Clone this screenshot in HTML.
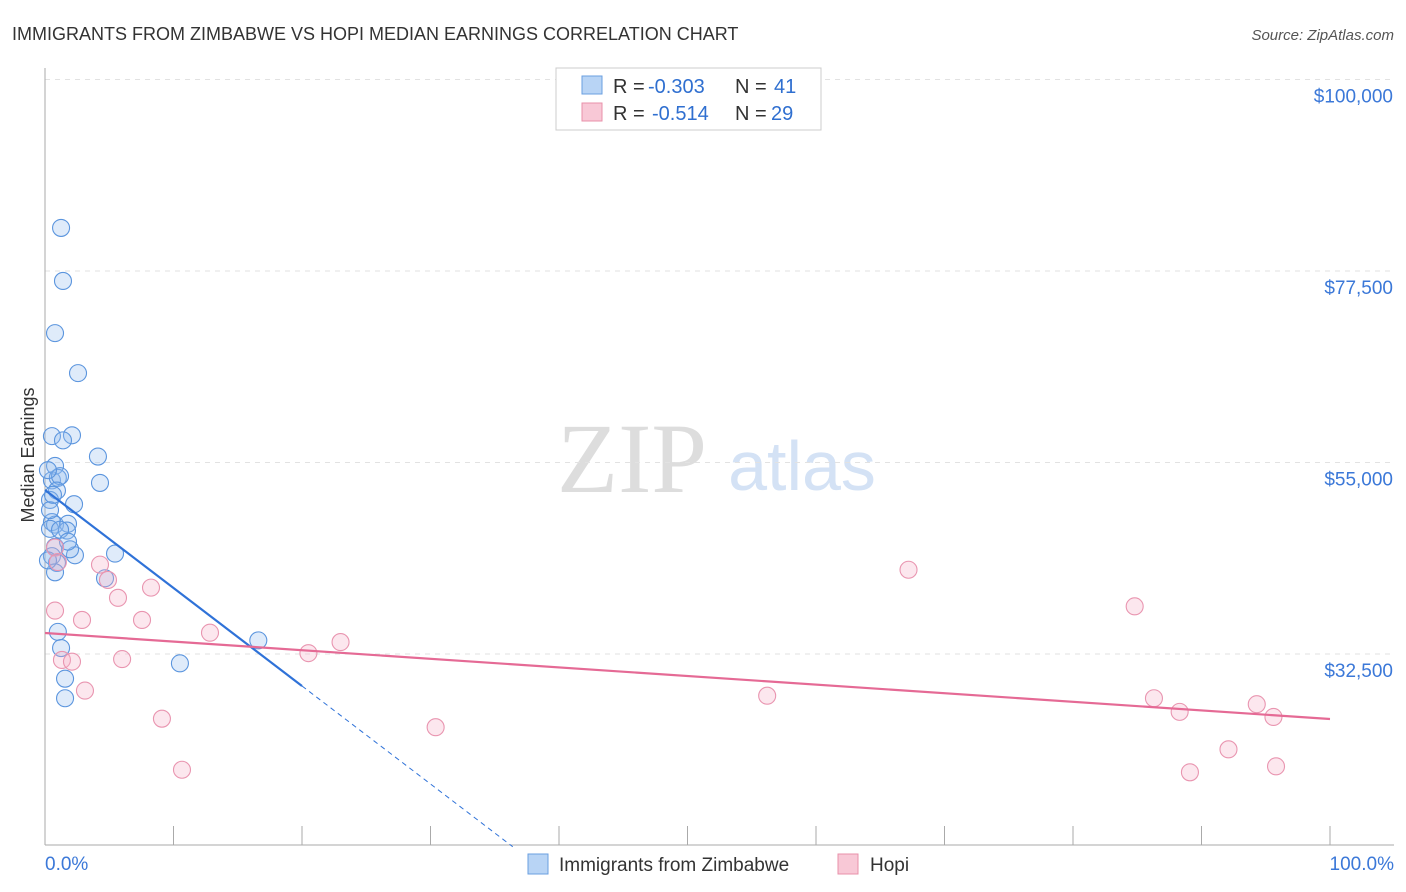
<!DOCTYPE html>
<html><head><meta charset="utf-8"><style>
body{margin:0;background:#fff;font-family:"Liberation Sans",sans-serif}
#wrap{position:relative;width:1406px;height:892px;overflow:hidden}
</style></head><body>
<div id="wrap">
<svg id="svg" width="1406" height="892" xmlns="http://www.w3.org/2000/svg">
<text x="12" y="40" font-size="18" fill="#333">IMMIGRANTS FROM ZIMBABWE VS HOPI MEDIAN EARNINGS CORRELATION CHART</text>
<text x="1394" y="40" font-size="15" fill="#555" text-anchor="end" font-style="italic">Source: ZipAtlas.com</text>
<text x="632" y="492" font-size="100" fill="#ddd" font-family="Liberation Serif" text-anchor="middle">ZIP</text>
<text x="802" y="490" font-size="70" fill="#d4e2f5" text-anchor="middle">atlas</text>
<text transform="translate(34,455) rotate(-90)" font-size="18" fill="#333" text-anchor="middle">Median Earnings</text>
<g id="grid"></g><g id="axes"></g><g id="pts"></g><g id="lines"></g>
<g>
<rect x="556" y="68" width="265" height="62" fill="#fff" stroke="#ccc"/>
<rect x="582" y="76" width="20" height="18" fill="#b8d4f5" stroke="#6a9fe0"/>
<rect x="582" y="103" width="20" height="18" fill="#f8c8d6" stroke="#e890aa"/>
<text y="93" font-size="20" fill="#333"><tspan x="613">R =</tspan><tspan x="648" fill="#2f6fd0">-0.303</tspan><tspan x="735">N =</tspan><tspan x="774" fill="#2f6fd0">41</tspan></text>
<text y="120" font-size="20" fill="#333"><tspan x="613">R =</tspan><tspan x="652" fill="#2f6fd0">-0.514</tspan><tspan x="735">N =</tspan><tspan x="771" fill="#2f6fd0">29</tspan></text>
</g>
<g>
<rect x="528" y="854" width="20" height="20" fill="#b8d4f5" stroke="#6a9fe0"/>
<text x="559" y="871" font-size="19" fill="#333">Immigrants from Zimbabwe</text>
<rect x="838" y="854" width="20" height="20" fill="#f8c8d6" stroke="#e890aa"/>
<text x="870" y="871" font-size="19" fill="#333">Hopi</text>
</g>
<text x="45" y="870" font-size="19" fill="#3b78d8">0.0%</text>
<text x="1394" y="870" font-size="19" fill="#3b78d8" text-anchor="end">100.0%</text>
</svg></div>
<script>
const blueX=[1.25,1.4,0.78,2.57,0.54,2.1,1.4,4.12,0.78,0.54,1.0,1.17,4.28,0.93,0.39,2.26,0.54,0.78,1.79,0.39,1.71,0.78,0.54,2.33,5.45,1.95,0.93,0.78,4.67,1.0,1.25,1.56,1.56,10.5,16.6,0.23,0.39,1.17,0.23,1.79,0.62];
const blueY=[82.56,76.33,70.2,65.5,58.1,58.2,57.6,55.7,54.6,52.9,53.2,53.4,52.6,51.7,50.6,50.1,48.0,47.7,47.8,47.2,47.0,45.1,44.0,44.1,44.3,44.8,43.2,42.1,41.4,35.1,33.2,29.6,27.3,31.4,34.1,54.1,49.4,47.1,43.5,45.7,51.2];
const pinkX=[0.78,1.0,4.28,4.9,5.68,8.25,0.78,2.88,7.55,12.84,23.0,20.5,1.32,2.1,6.0,3.11,9.1,10.66,30.4,67.2,84.8,56.2,86.3,88.3,94.3,95.6,92.1,89.1,95.8];
const pinkY=[45.0,43.3,43.0,41.2,39.1,40.3,37.6,36.5,36.5,35.0,33.9,32.6,31.8,31.6,31.9,28.2,24.9,18.9,23.9,42.4,38.1,27.6,27.3,25.7,26.6,25.1,21.3,18.6,19.3];
const yTicks=[32.5,55,77.5,100];
const yTickLabels=["$32,500","$55,000","$77,500","$100,000"];
const blueLine=[51.77,28.74]; // values at x=0 and x=20
const pinkLine=[34.97,24.86]; // values at x=0 and x=100
const NS="http://www.w3.org/2000/svg";
const X=v=>45+v*12.85, Y=v=>654-(v-32.5)*191.5/22.5;
function mk(tag,at,par){const e=document.createElementNS(NS,tag);for(const k in at)e.setAttribute(k,at[k]);document.getElementById(par).appendChild(e);return e;}
yTicks.forEach((t,i)=>{
 const l=mk('line',{x1:45,x2:1394,y1:Y(t),y2:Y(t),stroke:'#e2e2e2','stroke-dasharray':'5,5'},'grid');
 
 
 const tx=mk('text',{x:1393,y:Y(t)+23,'font-size':19,fill:'#3b78d8','text-anchor':'end'},'grid');
 tx.textContent=yTickLabels[i];
 
 
});
const ax=mk('line',{x1:45,x2:45,y1:68,y2:845,stroke:'#aaa'},'axes');


const bx=mk('line',{x1:45,x2:1394,y1:845,y2:845,stroke:'#aaa'},'axes');


for(let i=0;i<=10;i++){const t=mk('line',{x1:X(i*10),x2:X(i*10),y1:826,y2:845,stroke:'#aaa'},'axes');
 
 }
blueX.forEach((x,i)=>{const c=mk('circle',{cx:X(x),cy:Y(blueY[i]),r:8.5,fill:'rgba(150,190,240,0.3)',stroke:'#5b95de','stroke-width':1.1},'pts');
 
 });
pinkX.forEach((x,i)=>{const c=mk('circle',{cx:X(x),cy:Y(pinkY[i]),r:8.5,fill:'rgba(245,175,200,0.3)',stroke:'#e995b0','stroke-width':1.1},'pts');
 
 });
const bs=(blueLine[1]-blueLine[0])/20;
const b1=mk('line',{x1:X(0),y1:Y(blueLine[0]),x2:X(20),y2:Y(blueLine[1]),stroke:'#2f72d8','stroke-width':2.2},'lines');


const xe=36.4;
const b2=mk('line',{x1:X(20),y1:Y(blueLine[1]),x2:X(xe),y2:Y(blueLine[0]+bs*xe),stroke:'#2f72d8','stroke-width':1,'stroke-dasharray':'5,4'},'lines');


const p1=mk('line',{x1:X(0),y1:Y(pinkLine[0]),x2:X(100),y2:Y(pinkLine[1]),stroke:'#e56a95','stroke-width':2.2},'lines');


</script>
</body></html>
